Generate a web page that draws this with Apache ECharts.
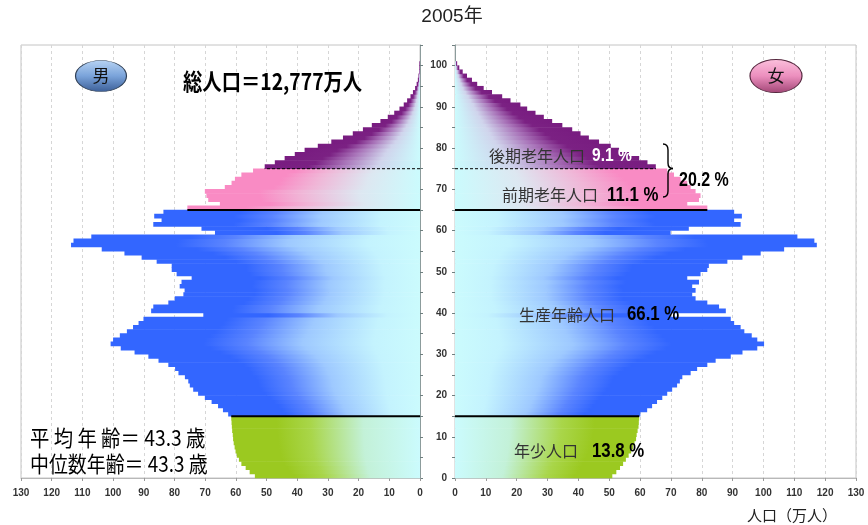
<!DOCTYPE html>
<html>
<head>
<meta charset="utf-8">
<script src="https://cdn.jsdelivr.net/npm/echarts@6/dist/echarts.min.js"></script>
<style>
  html, body { margin: 0; padding: 0; background: #fff; }
  #chart { width: 868px; height: 525px; }
</style>
</head>
<body>
<div id="chart"></div>
<script>
// Single-year ages 0..100
const ages = Array.from({ length: 101 }, (_, i) => i);

// Male population by age (10,000 persons)
const maleValues = [
  53.8, 55.5, 56.8, 58.2, 59.0, 59.7, 60.1, 60.4, 60.7, 60.9,
  61.0, 61.2, 61.3, 61.4, 61.5, 62.5, 64.2, 65.8, 67.9, 70.1,
  72.3, 73.9, 75.0, 75.5, 76.6, 78.7, 79.8, 82.0, 85.2, 88.5,
  93.0, 97.5, 100.8, 100.0, 97.8, 95.5, 93.5, 91.7, 90.1, 70.6,
  87.6, 86.9, 82.0, 79.9, 77.1, 76.7, 78.3, 77.7, 74.4, 79.3,
  80.9, 80.9, 85.8, 90.7, 96.3, 103.7, 113.7, 112.9, 107.1, 66.8,
  71.2, 86.9, 84.2, 86.6, 83.6, 75.8, 65.2, 69.0, 69.6, 70.1,
  63.6, 61.4, 60.3, 58.2, 54.4, 50.6, 47.3, 44.1, 40.8, 37.6,
  33.3, 28.9, 25.1, 21.9, 18.6, 15.7, 12.9, 10.5, 8.4, 6.7,
  5.3, 4.2, 3.1, 2.3, 1.6, 1.1, 0.7, 0.5, 0.3, 0.2,
  0.2
];

// Female population by age (10,000 persons)
const femaleValues = [
  51.0, 52.3, 53.5, 54.5, 55.4, 56.3, 57.1, 57.7, 58.2, 58.7,
  58.9, 59.2, 59.5, 59.6, 59.7, 60.1, 62.3, 63.9, 65.5, 67.2,
  68.8, 70.4, 72.0, 72.9, 73.7, 76.4, 78.5, 81.8, 84.5, 89.4,
  93.2, 98.0, 100.2, 98.0, 96.2, 93.8, 92.6, 90.5, 89.4, 69.9,
  87.8, 85.6, 81.8, 78.0, 76.9, 78.0, 76.9, 79.1, 75.3, 79.6,
  81.8, 82.3, 88.3, 93.2, 99.1, 106.7, 117.3, 116.5, 111.0, 69.9,
  75.8, 92.6, 90.5, 93.0, 90.5, 81.8, 75.3, 79.1, 79.6, 78.0,
  76.4, 75.3, 73.1, 71.0, 68.8, 65.1, 62.4, 59.7, 56.4, 53.2,
  50.5, 46.7, 43.4, 40.7, 38.0, 34.8, 31.5, 28.8, 26.1, 23.4,
  21.2, 18.0, 15.3, 12.0, 9.3, 7.2, 5.5, 3.9, 2.5, 1.4,
  0.7
];

// Age group boundaries: 15 (working age), 65 (early elderly), 75 (late elderly)
const boundaryAges = [15, 65, 75];

const xMax = 130;
const xStep = 10;
const yMax = 105;

const FONT_LATIN = "'Liberation Sans', 'Noto Sans', sans-serif";
const FONT_JP = "'Noto Sans CJK JP', 'Noto Sans', sans-serif";

// Each bar fades from pale cyan at the axis to its group colour at the outer end
const CYAN = '#cbfbfd';
const stopsYoung = [[0, CYAN], [0.3, '#c3f1d8'], [0.58, '#a9d64a'], [0.76, '#9bc920'], [1, '#9bc920']];
const stopsWork = [[0, CYAN], [0.15, '#c4f3fe'], [0.38, '#9ec9ff'], [0.56, '#5a84ff'], [0.7, '#3366ff'], [1, '#3366ff']];
const stopsEarly = [[0, CYAN], [0.28, '#dde7f1'], [0.55, '#f0b6d7'], [0.75, '#f98bc4'], [1, '#f98bc4']];
const stopsLate = [[0, CYAN], [0.28, '#d0d4ec'], [0.52, '#a872b8'], [0.72, '#7b2183'], [1, '#781c80']];

function stopsFor(age) {
  if (age < boundaryAges[0]) return stopsYoung;
  if (age < boundaryAges[1]) return stopsWork;
  if (age < boundaryAges[2]) return stopsEarly;
  return stopsLate;
}

function barRenderer(side) {
  return function (params, api) {
    const v = api.value(0);
    const age = api.value(1);
    const a = api.coord([0, age]);
    const b = api.coord([v, age + 1]);
    const x = Math.min(a[0], b[0]);
    const w = Math.abs(b[0] - a[0]);
    const y = b[1];
    const h = a[1] - b[1];
    const stops = stopsFor(age).map(s => ({ offset: s[0], color: s[1] }));
    const fill = side === 'left'
      ? { type: 'linear', x: 1, y: 0, x2: 0, y2: 0, colorStops: stops }
      : { type: 'linear', x: 0, y: 0, x2: 1, y2: 0, colorStops: stops };
    return {
      type: 'rect',
      shape: { x: x, y: y - 0.3, width: w, height: h + 0.6 },
      style: { fill: fill }
    };
  };
}

// Boundary line length: the shorter of the two bars that meet at the boundary
function boundaryLen(values, age) {
  return Math.min(values[age - 1], values[age]);
}

function boundaryLines(values, xIdx) {
  return boundaryAges.map(age => ({
    type: 'line',
    xAxisIndex: xIdx,
    yAxisIndex: xIdx,
    data: [[0, age], [boundaryLen(values, age), age]],
    symbol: 'none',
    silent: true,
    z: 5,
    lineStyle: {
      color: '#000',
      width: age === 75 ? 1 : 2,
      type: age === 75 ? [3, 2] : 'solid'
    }
  }));
}

const gridTop = 45, gridBottomY = 478;

function xAxisCfg(gridIndex, inverse) {
  return {
    type: 'value', gridIndex: gridIndex, min: 0, max: xMax, interval: xStep, inverse: inverse,
    axisLine: { show: true, lineStyle: { color: '#b8b8b8' } },
    axisTick: { show: true, length: 3, lineStyle: { color: '#999' } },
    axisLabel: { margin: 10, fontSize: 10, fontWeight: 'bold', color: '#333', fontFamily: FONT_LATIN },
    splitLine: { show: true, lineStyle: { color: '#d6d6d6', type: [3, 3] } }
  };
}

function yAxisCfg(gridIndex, position, showLabels) {
  return {
    type: 'value', gridIndex: gridIndex, min: 0, max: yMax, interval: 5, position: position,
    axisLine: { show: true, lineStyle: { color: '#8c9c9c' } },
    axisTick: { show: true, length: 3, lineStyle: { color: '#6f7f7f' } },
    axisLabel: {
      show: showLabels, margin: 8, fontSize: 10, fontWeight: 'bold', color: '#333', fontFamily: FONT_LATIN,
      formatter: v => (v % 10 === 0 && v <= 100 ? String(v) : '')
    },
    splitLine: { show: false }
  };
}

function txt(text, x, y, opts) {
  opts = opts || {};
  return {
    type: 'text',
    x: x, y: y,
    scaleX: opts.scaleX || 1,
    originX: 0, originY: 0,
    z: 20,
    style: {
      text: text,
      fill: opts.color || '#000',
      fontSize: opts.size || 16,
      fontWeight: opts.weight || 'normal',
      fontFamily: opts.family || FONT_JP,
      textAlign: opts.align || 'left',
      textVerticalAlign: 'middle'
    }
  };
}

// Curly brace grouping the two elderly shares
const braceStyle = { stroke: '#000', lineWidth: 1.4, fill: 'none' };
const brace = [
  { type: 'bezierCurve', z: 20, shape: { x1: 663, y1: 144, cpx1: 668, cpy1: 144, x2: 668, y2: 150 }, style: braceStyle },
  { type: 'line', z: 20, shape: { x1: 668, y1: 150, x2: 668, y2: 163 }, style: braceStyle },
  { type: 'bezierCurve', z: 20, shape: { x1: 668, y1: 163, cpx1: 668, cpy1: 168.5, x2: 673, y2: 168.5 }, style: braceStyle },
  { type: 'bezierCurve', z: 20, shape: { x1: 673, y1: 168.5, cpx1: 668, cpy1: 168.5, x2: 668, y2: 174 }, style: braceStyle },
  { type: 'line', z: 20, shape: { x1: 668, y1: 174, x2: 668, y2: 191 }, style: braceStyle },
  { type: 'bezierCurve', z: 20, shape: { x1: 668, y1: 191, cpx1: 668, cpy1: 197, x2: 663, y2: 197 }, style: braceStyle }
];

const chart = echarts.init(document.getElementById('chart'), null, { renderer: 'canvas' });

chart.setOption({
  animation: false,
  backgroundColor: '#fff',
  grid: [
    { left: 21, top: gridTop, width: 399, height: gridBottomY - gridTop, show: true, borderColor: '#c4c4c4', borderWidth: 1 },
    { left: 455, top: gridTop, width: 401, height: gridBottomY - gridTop, show: true, borderColor: '#c4c4c4', borderWidth: 1 }
  ],
  xAxis: [xAxisCfg(0, true), xAxisCfg(1, false)],
  yAxis: [yAxisCfg(0, 'right', false), yAxisCfg(1, 'left', true)],
  series: [
    {
      type: 'custom', name: '男', xAxisIndex: 0, yAxisIndex: 0,
      renderItem: barRenderer('left'),
      encode: { x: 0, y: 1 },
      data: ages.map((a, i) => [maleValues[i], a]),
      z: 2
    },
    {
      type: 'custom', name: '女', xAxisIndex: 1, yAxisIndex: 1,
      renderItem: barRenderer('right'),
      encode: { x: 0, y: 1 },
      data: ages.map((a, i) => [femaleValues[i], a]),
      z: 2
    },
    ...boundaryLines(maleValues, 0),
    ...boundaryLines(femaleValues, 1)
  ],
  graphic: [
    txt('2005年', 452, 17, { size: 19, color: '#222', family: FONT_LATIN + ", 'Noto Sans CJK JP'", align: 'center', scaleX: 1 }),
    {
      type: 'circle', z: 15, scaleY: 15.5 / 25.5, x: 101, y: 76, originX: 0, originY: 0,
      shape: { cx: 0, cy: 0, r: 25.5 },
      style: {
        fill: { type: 'linear', x: 0, y: 0, x2: 0, y2: 1, colorStops: [
          { offset: 0, color: '#b7d3f3' }, { offset: 0.5, color: '#7aa3da' }, { offset: 1, color: '#3c5f98' }] },
        stroke: '#2f3f55', lineWidth: 1.2
      }
    },
    txt('男', 101, 76, { size: 17, color: '#111', align: 'center' }),
    {
      type: 'circle', z: 15, scaleY: 16.5 / 26, x: 776, y: 76, originX: 0, originY: 0,
      shape: { cx: 0, cy: 0, r: 26 },
      style: {
        fill: { type: 'linear', x: 0, y: 0, x2: 0, y2: 1, colorStops: [
          { offset: 0, color: '#fbc0dc' }, { offset: 0.5, color: '#ec8fbe' }, { offset: 1, color: '#a24676' }] },
        stroke: '#55283f', lineWidth: 1.2
      }
    },
    txt('女', 776, 76, { size: 17, color: '#111', align: 'center' }),
    txt('総人口＝12,777万人', 183, 81, { size: 23, weight: 'bold', scaleX: 0.84 }),
    txt('平 均 年 齢＝ 43.3 歳', 30, 438, { size: 22, scaleX: 0.88 }),
    txt('中位数年齢＝ 43.3 歳', 30, 464, { size: 22, scaleX: 0.86 }),

    txt('後期老年人口', 585, 156, { size: 16, color: '#333', align: 'right' }),
    txt('9.1 %', 592, 156, { size: 19, weight: 'bold', color: '#fff', family: FONT_LATIN, scaleX: 0.82 }),
    txt('前期老年人口', 598, 195, { size: 16, color: '#333', align: 'right' }),
    txt('11.1 %', 607, 195, { size: 21, weight: 'bold', family: FONT_LATIN, scaleX: 0.8 }),
    ...brace,
    txt('20.2 %', 679, 180, { size: 20, weight: 'bold', family: FONT_LATIN, scaleX: 0.8 }),
    txt('生産年齢人口', 615, 315, { size: 16, color: '#333', align: 'right' }),
    txt('66.1 %', 627, 314, { size: 21, weight: 'bold', family: FONT_LATIN, scaleX: 0.8 }),
    txt('年少人口', 578, 451, { size: 16, color: '#333', align: 'right' }),
    txt('13.8 %', 592, 451, { size: 21, weight: 'bold', family: FONT_LATIN, scaleX: 0.8 }),
    txt('人口（万人）', 747, 515, { size: 15, color: '#222' })
  ]
});
</script>
</body>
</html>
